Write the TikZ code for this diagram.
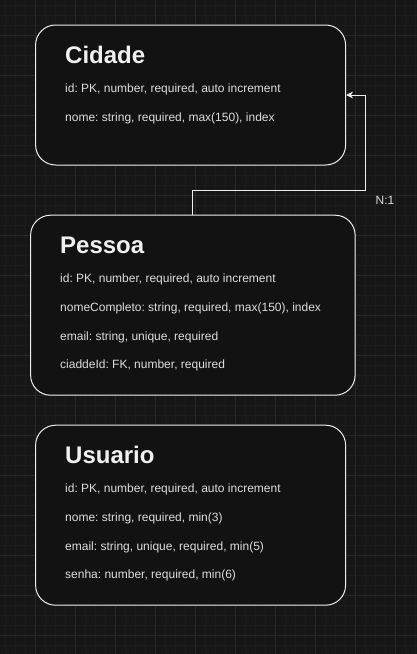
\documentclass[tikz,border=0pt]{standalone}
\usepackage{fontspec}
\setmainfont{Liberation Sans}
\usepackage{tikz}
\usetikzlibrary{arrows.meta}
\frenchspacing
\definecolor{canvas}{HTML}{161616}
\definecolor{boxfill}{HTML}{121212}
\definecolor{gridminor}{HTML}{1C1C1C}
\definecolor{gridmajor}{HTML}{282828}
\definecolor{edgecol}{HTML}{EEEEEE}
\definecolor{titlecol}{HTML}{F0F0F0}
\definecolor{fieldcol}{HTML}{DDDDDD}
\tikzset{
	entity/.style={draw=edgecol, fill=boxfill, line width=1pt, rounded corners=20pt, inner sep=0pt},
	title/.style={anchor=base west, inner sep=0pt, text=titlecol, font=\fontsize{24}{28}\selectfont\bfseries},
	field/.style={anchor=base west, inner sep=0pt, text=fieldcol, font=\fontsize{12}{14}\selectfont},
	rel/.style={draw=edgecol, line width=1pt, -{Stealth[length=7pt,width=7pt]}}
}

\begin{document}
\begin{tikzpicture}[x=1pt, y=-1pt]
				\useasboundingbox (0,0) rectangle (417,654);
				%Background
				\fill[canvas] (0,0) rectangle (417,654);
				\foreach \i in {0,...,41}
					\draw[gridminor, line width=0.6pt] (5.5+\i*10,0) -- (5.5+\i*10,654);
				\foreach \i in {0,...,65}
					\draw[gridminor, line width=0.6pt] (0,5+\i*10) -- (417,5+\i*10);
				\foreach \i in {0,...,10}
					\draw[gridmajor, line width=0.8pt] (-4.5+\i*40,0) -- (-4.5+\i*40,654);
				\foreach \i in {0,...,16}
					\draw[gridmajor, line width=0.8pt] (0,-5+\i*40) -- (417,-5+\i*40);

				%Nodes
				\node[entity, minimum width=310, minimum height=140] (cidade) at (190.6,95) {};
				\node[entity, minimum width=324.5, minimum height=180] (pessoa) at (192.85,305.2) {};
				\node[entity, minimum width=310, minimum height=180] (usuario) at (190.6,515.2) {};
				\coordinate (bend) at (365.5,190);

				%Cidade
				\node[title] (cidadeTitle) at (65,63.3) {Cidade};
				\node[field] (cidadeId)   at (65,92.5)  {id: PK, number, required, auto increment};
				\node[field] (cidadeNome) at (65,121.5) {nome: string, required, max(150), index};

				%Pessoa
				\node[title] (pessoaTitle) at (60,253.3) {Pessoa};
				\node[field] (pessoaId)    at (60,282.5) {id: PK, number, required, auto increment};
				\node[field] (pessoaNome)  at (60,311.5) {nomeCompleto: string, required, max(150), index};
				\node[field] (pessoaEmail) at (60,340)   {email: string, unique, required};
				\node[field] (pessoaCid)   at (60,368.5) {ciaddeId: FK, number, required};

				%Usuario
				\node[title] (usuarioTitle) at (65,463.3) {Usuario};
				\node[field] (usuarioId)    at (65,492.5) {id: PK, number, required, auto increment};
				\node[field] (usuarioNome)  at (65,521.5) {nome: string, required, min(3)};
				\node[field] (usuarioEmail) at (65,550)   {email: string, unique, required, min(5)};
				\node[field] (usuarioSenha) at (65,578.5) {senha: number, required, min(6)};

				%Lines
				\draw[rel] (pessoa.north) |- (bend) |- (cidade.east);
				\node[field, anchor=center] (card) at (385,200) {N:1};
\end{tikzpicture}
\end{document}
